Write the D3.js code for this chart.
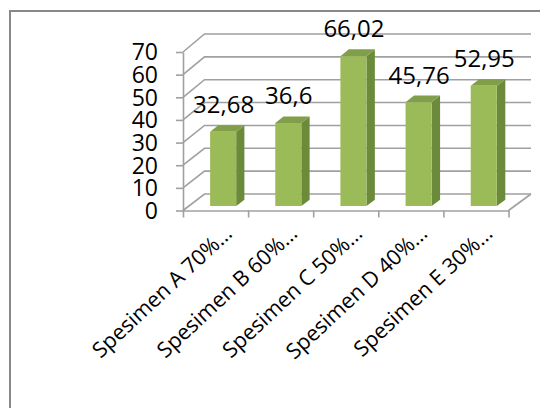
<!DOCTYPE html>
<html>
<head>
<meta charset="utf-8">
<script src="https://cdn.jsdelivr.net/npm/d3@7"></script>
<style>
  html, body { margin: 0; padding: 0; background: #fff; }
  svg { display: block; }
  text { font-family: "Open Sans", "Liberation Sans", sans-serif; fill: #000; }
</style>
</head>
<body>
<svg id="chart" width="540" height="408"></svg>
<script>
const categories = ["Spesimen A 70%…", "Spesimen B 60%…", "Spesimen C 50%…", "Spesimen D 40%…", "Spesimen E 30%…"];
const values = [32.68, 36.6, 66.02, 45.76, 52.95];
const valueLabels = ["32,68", "36,6", "66,02", "45,76", "52,95"];
const yTicks = [0, 10, 20, 30, 40, 50, 60, 70];

const svg = d3.select("#chart");

// outer frame
svg.append("rect").attr("x", 10).attr("y", 11).attr("width", 560).attr("height", 420)
  .attr("fill", "#fff").attr("stroke", "#888").attr("stroke-width", 2);

// 3D oblique frame: front plane and back plane scales
const n = categories.length;
const xFront = d3.scaleLinear().domain([0, n]).range([183, 508.5]);
const xBack  = d3.scaleLinear().domain([0, n]).range([204.5, 531]);
const yFront = d3.scaleLinear().domain([0, 70]).range([210.5, 52]);
const yBack  = d3.scaleLinear().domain([0, 70]).range([194, 34]);
const lerp = (a, b, t) => a + (b - a) * t;
const proj = (u, v, d) => [lerp(xFront(u), xBack(u), d), lerp(yFront(v), yBack(v), d)];

const grid = svg.append("g").attr("fill", "none").attr("stroke", "#a0a0a0").attr("stroke-width", 1.6);
// gridlines on side wall (diagonal) and back wall (horizontal)
yTicks.forEach(t => {
  const p0 = proj(0, t, 0), p1 = proj(0, t, 1), p2 = proj(n, t, 1);
  grid.append("path").attr("d", d3.line()([p0, p1, p2]));
});
// floor right edge
grid.append("path").attr("d", d3.line()([proj(n, 0, 0), proj(n, 0, 1)]));

// bars
const d0 = 0.27, d1 = 0.65, u0 = 0.327, u1 = 0.727;
const bars = svg.append("g");
values.forEach((v, i) => {
  const a = i + u0, b = i + u1;
  const fTL = proj(a, v, d0), fTR = proj(b, v, d0), fBR = proj(b, 0, d0), fBL = proj(a, 0, d0);
  const bTL = proj(a, v, d1), bTR = proj(b, v, d1), bBR = proj(b, 0, d1);
  bars.append("path").attr("d", d3.line()([fTR, bTR, bBR, fBR]) + "Z").attr("fill", "#6b8a3a");
  bars.append("path").attr("d", d3.line()([fTL, bTL, bTR, fTR]) + "Z").attr("fill", "#809f48");
  bars.append("path").attr("d", d3.line()([fTL, fTR, fBR, fBL]) + "Z").attr("fill", "#9bbb59");
  svg.append("text")
    .attr("x", (fTL[0] + fTR[0]) / 2 + 0.5)
    .attr("y", bTL[1] - 12)
    .attr("text-anchor", "middle")
    .attr("font-size", 24)
    .text(valueLabels[i]);
});

// y axis (front)
const yAxis = d3.axisLeft(yFront).tickValues(yTicks).tickSize(7).tickSizeOuter(0).tickPadding(18);
const gy = svg.append("g").attr("transform", "translate(183,0)").call(yAxis);
gy.selectAll("path, line").attr("stroke", "#a0a0a0").attr("stroke-width", 1.6);
gy.selectAll("text").attr("font-size", 23).attr("font-family", "Open Sans").attr("fill", "#000").attr("dy", "0.34em");

// x axis (front floor edge)
const xAxis = d3.axisBottom(xFront).tickValues(d3.range(n + 1)).tickSize(7).tickSizeOuter(0).tickFormat("");
const gx = svg.append("g").attr("transform", "translate(0,210.5)").call(xAxis);
gx.selectAll("path, line").attr("stroke", "#a0a0a0").attr("stroke-width", 1.6);

// category labels rotated
categories.forEach((c, i) => {
  const x = xFront(i + 0.5) + 18, y = 235;
  svg.append("text")
    .attr("transform", `translate(${x},${y}) rotate(-43)`)
    .attr("text-anchor", "end")
    .attr("font-size", 21.5)
    .text(c);
});
</script>
</body>
</html>
